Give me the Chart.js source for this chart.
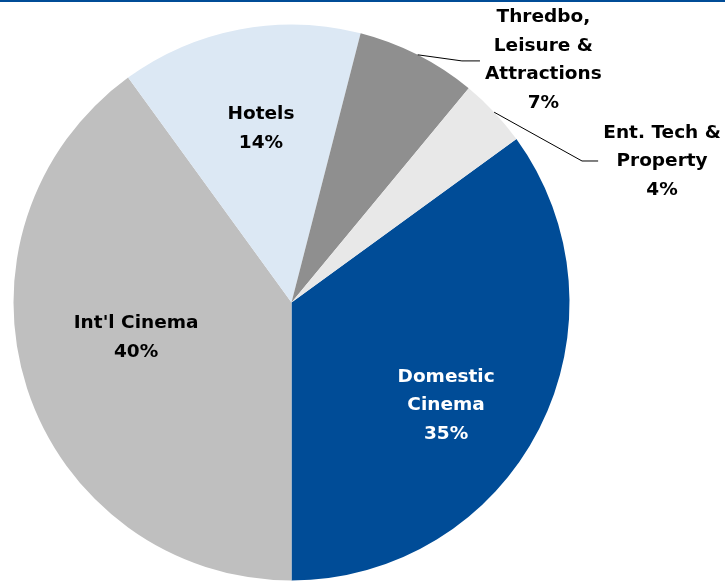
<!DOCTYPE html>
<html>
<head>
<meta charset="utf-8">
<script src="https://cdn.jsdelivr.net/npm/chart.js@4/dist/chart.umd.min.js"></script>
<style>
  html, body { margin: 0; padding: 0; background: #fff; }
  canvas { display: block; }
</style>
</head>
<body>
<canvas id="segmentPie" width="725" height="582"></canvas>
<script>
// Segment split (%), clockwise starting from the Domestic Cinema edge
const segments = ['Domestic Cinema', "Int'l Cinema", 'Hotels', 'Thredbo, Leisure & Attractions', 'Ent. Tech & Property'];
const labelLines = [['Domestic', 'Cinema'], ["Int'l Cinema"], ['Hotels'], ['Thredbo,', 'Leisure &', 'Attractions'], ['Ent. Tech &', 'Property']];
const shares = [35, 40, 14, 7, 4];

const sliceColors = ['#004C97', '#BFBFBF', '#DCE8F4', '#8F8F8F', '#E8E8E8'];
const textColors = ['#FFFFFF', '#000000', '#000000', '#000000', '#000000'];
// label block centre, as offset from pie centre in units of radius
const labelOffsets = [[0.556, 0.371], [-0.559, 0.126], [-0.110, -0.626], [0.906, -0.871], [1.333, -0.507]];
// leader lines: [elbow dx, elbow dy, end dx] in radius units (null = none)
const leaders = [null, null, null, [0.613, -0.869, 0.678], [1.045, -0.509, 1.103]];

const FONT = "bold 18.5px 'DejaVu Sans', Verdana, sans-serif";
const LINE_H = 28.5;

const sliceLabels = {
  id: 'sliceLabels',
  beforeDraw(chart) {
    const ctx = chart.ctx;
    ctx.save();
    ctx.fillStyle = '#FFFFFF';
    ctx.fillRect(0, 0, chart.width, chart.height);
    ctx.fillStyle = '#004C97';
    ctx.fillRect(0, 0, chart.width, 2);
    ctx.restore();
  },
  afterDatasetsDraw(chart) {
    const ctx = chart.ctx;
    const arcs = chart.getDatasetMeta(0).data;
    ctx.save();
    ctx.font = FONT;
    ctx.textAlign = 'center';
    ctx.textBaseline = 'middle';
    arcs.forEach((arc, i) => {
      const { x, y, outerRadius: r, startAngle, endAngle } = arc.getProps(['x', 'y', 'outerRadius', 'startAngle', 'endAngle'], true);
      const lead = leaders[i];
      if (lead) {
        const mid = (startAngle + endAngle) / 2;
        ctx.strokeStyle = '#000000';
        ctx.lineWidth = 1;
        ctx.beginPath();
        ctx.moveTo(x + Math.cos(mid) * r, y + Math.sin(mid) * r);
        ctx.lineTo(x + lead[0] * r, y + lead[1] * r);
        ctx.lineTo(x + lead[2] * r, y + lead[1] * r);
        ctx.stroke();
      }
      const lines = labelLines[i].concat([shares[i] + '%']);
      const cx = x + labelOffsets[i][0] * r;
      const cy = y + labelOffsets[i][1] * r;
      const top = cy - (lines.length - 1) * LINE_H / 2;
      ctx.fillStyle = textColors[i];
      lines.forEach((t, k) => ctx.fillText(t, cx, top + k * LINE_H));
    });
    ctx.restore();
  }
};

new Chart(document.getElementById('segmentPie').getContext('2d'), {
  type: 'pie',
  data: {
    labels: segments,
    datasets: [{
      data: shares,
      backgroundColor: sliceColors,
      borderWidth: 0,
      hoverOffset: 0
    }]
  },
  options: {
    responsive: false,
    animation: false,
    rotation: 54,
    layout: { padding: { left: 13.5, right: 155.5, top: 24.5, bottom: 1.5 } },
    plugins: {
      legend: { display: false },
      tooltip: { enabled: false }
    }
  },
  plugins: [sliceLabels]
});
</script>
</body>
</html>
